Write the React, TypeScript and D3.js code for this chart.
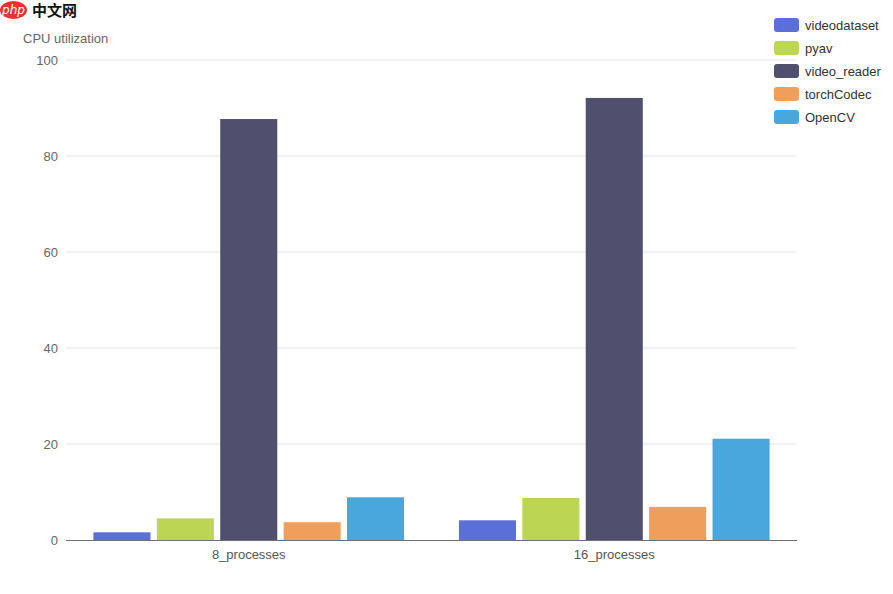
import React from "react";
import * as d3 from "d3";

const categories = ["8_processes", "16_processes"];
const seriesNames = ["videodataset", "pyav", "video_reader", "torchCodec", "OpenCV"];
const seriesColors = ["#5a6fd8", "#bcd653", "#50506e", "#f09f5b", "#4aa7db"];
const videodataset = [1.6, 4.1];
const pyav = [4.5, 8.75];
const video_reader = [87.7, 92.1];
const torchCodec = [3.7, 6.9];
const OpenCV = [8.9, 21.1];
const yTicks = [0, 20, 40, 60, 80, 100];
const yAxisTitle = "CPU utilization";

const seriesValues = [videodataset, pyav, video_reader, torchCodec, OpenCV];

export default function App() {
  const W = 893, H = 594;
  const left = 66, right = 797, top = 60, bottom = 540;
  const font = "'Liberation Sans', Arial, sans-serif";

  const x0 = d3.scaleBand().domain(categories).range([left, right]).paddingInner(0).paddingOuter(0);
  const inner = d3.scaleBand().domain(seriesNames)
    .range([x0.bandwidth() * 0.075, x0.bandwidth() * 0.925]).paddingInner(0.1).paddingOuter(0);
  const y = d3.scaleLinear().domain([0, 100]).range([bottom, top]);

  return (
    <svg width={W} height={H} style={{ position: "absolute", left: 0, top: 0, background: "#fff" }} fontFamily={font}>
      {/* watermark logo */}
      <g>
        <ellipse cx={13.5} cy={10} rx={13.5} ry={9} fill="#e8322b" />
        <text x={13.5} y={14} textAnchor="middle" fill="#fff" fontSize={12} fontStyle="italic" fontFamily="'DejaVu Sans', sans-serif">php</text>
        <text x={32} y={16} fill="#111" fontSize={15} fontWeight="bold" fontFamily="'Noto Sans CJK SC', sans-serif">中文网</text>
      </g>
      <text x={23} y={43} fill="#666" fontSize={13}>{yAxisTitle}</text>
      {yTicks.map((t) => (
        <g key={t}>
          {t !== 0 && <line x1={left} x2={right} y1={y(t)} y2={y(t)} stroke="#e3e6ee" strokeWidth={1} />}
          <text x={58} y={y(t) + 4.5} textAnchor="end" fill="#666" fontSize={13}>{t}</text>
        </g>
      ))}
      {categories.map((c, ci) => (
        <g key={c} transform={`translate(${x0(c)},0)`}>
          {seriesNames.map((s, si) => {
            const v = seriesValues[si][ci];
            return (
              <rect key={s} x={inner(s)} y={y(v)} width={inner.bandwidth()} height={y(0) - y(v)} fill={seriesColors[si]} />
            );
          })}
          <text x={x0.bandwidth() / 2} y={559} textAnchor="middle" fill="#555" fontSize={13}>{c}</text>
        </g>
      ))}
      <line x1={left} x2={right} y1={bottom + 0.5} y2={bottom + 0.5} stroke="#6e7079" strokeWidth={1} />
      {seriesNames.map((s, i) => (
        <g key={s} transform={`translate(774,${18 + i * 23})`}>
          <rect x={0} y={0} width={25} height={14} rx={3} fill={seriesColors[i]} />
          <text x={31} y={12} fill="#333" fontSize={13}>{s}</text>
        </g>
      ))}
    </svg>
  );
}
